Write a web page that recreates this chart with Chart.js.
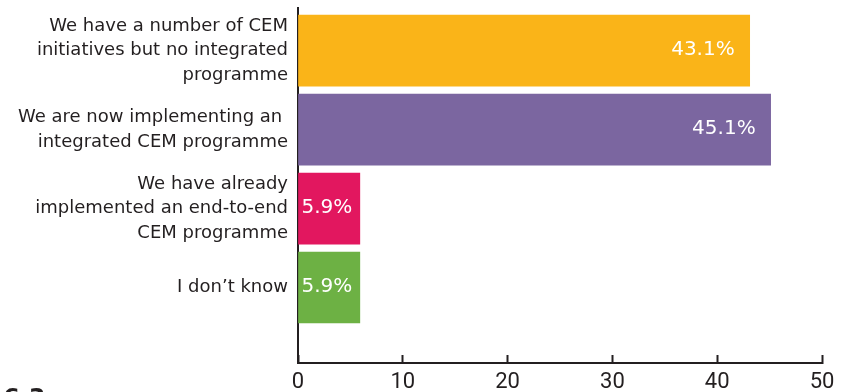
<!DOCTYPE html>
<html>
<head>
<meta charset="utf-8">
<script src="https://cdn.jsdelivr.net/npm/chart.js@4.4.0/dist/chart.umd.min.js"></script>
<style>
    html, body { margin: 0; padding: 0; background: #fff; }
    #wrap { width: 843px; height: 392px; }
</style>
</head>
<body>
<div id="wrap"><canvas id="cem-chart" width="843" height="392"></canvas></div>
<script>
const categories = [
    ["We have a number of CEM", "initiatives but no integrated", "programme"],
    ["We are now implementing an ", "integrated CEM programme"],
    ["We have already", "implemented an end-to-end", "CEM programme"],
    ["I don\u2019t know"]
];
const shares = [43.1, 45.1, 5.9, 5.9];
const barColours = ["#fab418", "#7b66a0", "#e2175f", "#6db144"];
const xTicks = [0, 10, 20, 30, 40, 50];
const figureNo = "6.3";

const ink = "#231f20";
const sans = "'DejaVu Sans', sans-serif";

// white percentage inside the right end of each bar
const valueLabels = {
    id: "valueLabels",
    afterDatasetsDraw(chart) {
        const ctx = chart.ctx;
        const meta = chart.getDatasetMeta(0);
        ctx.save();
        ctx.font = "20px " + sans;
        ctx.fillStyle = "#fff";
        ctx.textAlign = "right";
        ctx.textBaseline = "middle";
        meta.data.forEach((bar, i) => {
            const text = shares[i].toFixed(1) + "%";
            const w = ctx.measureText(text).width;
            const right = Math.max(bar.base + 3 + w, bar.x - 15);
            ctx.fillText(text, right, bar.y - 1);
        });
        ctx.restore();
    }
};

// figure number, mostly below the bottom edge
const figureCaption = {
    id: "figureCaption",
    afterDraw(chart) {
        const ctx = chart.ctx;
        ctx.save();
        ctx.font = "bold 24px " + sans;
        ctx.fillStyle = ink;
        ctx.textBaseline = "top";
        ctx.fillText(figureNo, 3, 388);
        ctx.restore();
    }
};

new Chart(document.getElementById("cem-chart"), {
    type: "bar",
    data: {
        datasets: [{
            data: shares.map((v, i) => ({ x: v, y: i })),
            backgroundColor: barColours,
            barThickness: 71,
            borderWidth: 0
        }]
    },
    options: {
        indexAxis: "y",
        responsive: false,
        animation: false,
        layout: { padding: { top: 8, right: 21, bottom: 0, left: 0 } },
        plugins: { legend: { display: false }, tooltip: { enabled: false } },
        scales: {
            y: {
                type: "linear",
                reverse: true,
                offset: false,
                min: -0.54,
                max: 3.956,
                afterBuildTicks: s => { s.ticks = categories.map((c, i) => ({ value: i })); },
                afterFit: s => { s.width = 298; s.paddingTop = 0; s.paddingBottom = 0; },
                grid: { offset: false, drawOnChartArea: false, drawTicks: false },
                border: { color: ink, width: 2 },
                ticks: {
                    callback: v => categories[v],
                    padding: 10,
                    color: ink,
                    font: { family: sans, size: 18, lineHeight: 1.36 }
                }
            },
            x: {
                min: 0,
                max: 50,
                afterBuildTicks: s => { s.ticks = xTicks.map(v => ({ value: v })); },
                afterFit: s => { s.height = 29; s.paddingLeft = 0; s.paddingRight = 0; },
                grid: { drawOnChartArea: false, tickLength: -8, tickWidth: 2, tickColor: ink },
                border: { color: ink, width: 2 },
                ticks: {
                    padding: 14,
                    maxRotation: 0,
                    color: ink,
                    font: { family: "Roboto, sans-serif", size: 22 }
                }
            }
        }
    },
    plugins: [valueLabels, figureCaption]
});
</script>
</body>
</html>
